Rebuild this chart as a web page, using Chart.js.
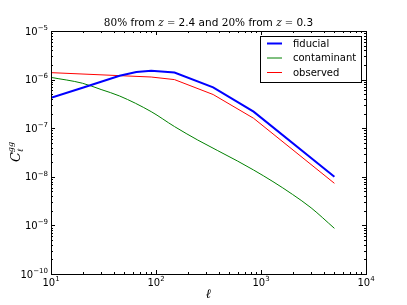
<!DOCTYPE html>
<html>
<head>
<meta charset="utf-8">
<script src="https://cdn.jsdelivr.net/npm/chart.js@4"></script>
<style>
  html, body { margin: 0; padding: 0; background: #fff; }
  #wrap { width: 407px; height: 305px; }
</style>
</head>
<body>
<div id="wrap"><canvas id="grafico"></canvas></div>
<script>
// multipoles and spectra
const ellFiducial = [10, 20, 30, 45, 65, 90, 150, 350, 850, 5000];
const fiducial = [4.2e-7, 6.8e-7, 9.0e-7, 1.2e-6, 1.43e-6, 1.52e-6, 1.40e-6, 6.95e-7, 2.19e-7, 1.0e-8];

const ellContaminant = [10, 20, 30, 45, 90, 150, 250, 600, 850, 1300, 2000, 3000, 5000];
const contaminant = [1.11e-6, 8.4e-7, 6.25e-7, 4.6e-7, 2.19e-7, 1.08e-7, 5.7e-8, 2.1e-8, 1.38e-8, 7.96e-9, 4.33e-9, 2.3e-9, 8.7e-10];

const ellObserved = [10, 90, 150, 350, 850, 5000];
const observed = [1.39e-6, 1.13e-6, 1.0e-6, 4.93e-7, 1.6e-7, 7.35e-9];

const xTickExps = [1, 2, 3, 4];
const yTickExps = [-10, -9, -8, -7, -6, -5];

function pts(xs, ys) {
    return xs.map((x, i) => ({ x: x, y: ys[i] }));
}

const data = {
    datasets: [{
        label: 'fiducial',
        borderColor: '#0000ff',
        backgroundColor: '#0000ff',
        borderWidth: 2,
        data: pts(ellFiducial, fiducial),
    },
    {
        label: 'contaminant',
        borderColor: '#008000',
        backgroundColor: '#008000',
        borderWidth: 1,
        cubicInterpolationMode: 'monotone',
        data: pts(ellContaminant, contaminant),
    },
    {
        label: 'observed',
        borderColor: '#ff0000',
        backgroundColor: '#ff0000',
        borderWidth: 1,
        data: pts(ellObserved, observed),
    }]
};

function drawPow(ctx, x, y, exp, align) {
    // "10" with a superscript exponent; y is the vertical middle of "10"
    ctx.font = '10px "DejaVu Sans"';
    const wb = ctx.measureText('10').width;
    ctx.font = '7px "DejaVu Sans"';
    const es = String(exp).replace('-', '\u2212');
    const we = ctx.measureText(es).width;
    const total = wb + we;
    let x0 = x;
    if (align === 'center') x0 = x - total / 2;
    if (align === 'right') x0 = x - total;
    ctx.textBaseline = 'middle';
    ctx.textAlign = 'left';
    ctx.font = '10px "DejaVu Sans"';
    ctx.fillText('10', x0, y);
    ctx.font = '7px "DejaVu Sans"';
    ctx.fillText(es, x0 + wb, y - 4);
}

const decor = {
    id: 'decor',
    afterDraw(chart) {
        const ctx = chart.ctx;
        const a = chart.chartArea;
        const xs = chart.scales.x, ys = chart.scales.y;
        ctx.save();
        ctx.fillStyle = '#000';
        ctx.strokeStyle = '#000';

        // frame
        ctx.lineWidth = 1;
        ctx.strokeRect(Math.round(a.left) + 0.5, Math.round(a.top) + 0.5,
            Math.round(a.right - a.left), Math.round(a.bottom - a.top));

        // ticks on all four sides, pointing in
        ctx.beginPath();
        for (let e = 1; e <= 4; e++) {
            for (let m = 1; m <= 9; m++) {
                if (e === 4 && m > 1) break;
                const v = m * Math.pow(10, e);
                const px = Math.round(xs.getPixelForValue(v)) + 0.5;
                const len = m === 1 ? 4 : 2;
                ctx.moveTo(px, a.bottom); ctx.lineTo(px, a.bottom - len);
                ctx.moveTo(px, a.top); ctx.lineTo(px, a.top + len);
            }
        }
        for (let e = -10; e <= -5; e++) {
            for (let m = 1; m <= 9; m++) {
                if (e === -5 && m > 1) break;
                const v = m * Math.pow(10, e);
                const py = Math.round(ys.getPixelForValue(v)) + 0.5;
                const len = m === 1 ? 4 : 2;
                ctx.moveTo(a.left, py); ctx.lineTo(a.left + len, py);
                ctx.moveTo(a.right, py); ctx.lineTo(a.right - len, py);
            }
        }
        ctx.stroke();

        // tick labels
        xTickExps.forEach(e => {
            drawPow(ctx, xs.getPixelForValue(Math.pow(10, e)), a.bottom + 9, e, 'center');
        });
        yTickExps.forEach(e => {
            drawPow(ctx, a.left - 3, ys.getPixelForValue(Math.pow(10, e)) + 1, e, 'right');
        });

        // title, mixed fonts like mathtext
        const seg = [
            ['80%', '10.5px "DejaVu Serif"'],
            [' from ', '10.5px "DejaVu Sans"'],
            ['z', 'italic 10.5px "DejaVu Serif"'],
            [' = ', '10px "DejaVu Serif"'],
            ['2.4 and ', '10.5px "DejaVu Sans"'],
            ['20%', '10.5px "DejaVu Serif"'],
            [' from ', '10.5px "DejaVu Sans"'],
            ['z', 'italic 10.5px "DejaVu Serif"'],
            [' = ', '10px "DejaVu Serif"'],
            ['0.3', '10.5px "DejaVu Sans"'],
        ];
        let tw = 0;
        seg.forEach(s => { ctx.font = s[1]; tw += ctx.measureText(s[0]).width; });
        let tx = (a.left + a.right) / 2 - tw / 2;
        ctx.textAlign = 'left';
        ctx.textBaseline = 'alphabetic';
        seg.forEach(s => {
            ctx.font = s[1];
            ctx.fillText(s[0], tx, 26);
            tx += ctx.measureText(s[0]).width;
        });

        // x label
        ctx.font = 'italic 13px "DejaVu Serif"';
        ctx.textAlign = 'center';
        ctx.fillText('\u2113', (a.left + a.right) / 2, 298);

        // y label, rotated
        ctx.save();
        ctx.translate(20, 152);
        ctx.rotate(-Math.PI / 2);
        ctx.textAlign = 'left';
        ctx.font = 'italic 13px "DejaVu Serif"';
        const wc = ctx.measureText('C').width;
        ctx.font = 'italic 8px "DejaVu Serif"';
        const wg = ctx.measureText('gg').width;
        const x0 = -(wc + wg) / 2;
        ctx.font = 'italic 13px "DejaVu Serif"';
        ctx.fillText('C', x0, 0);
        ctx.font = 'italic 8px "DejaVu Serif"';
        ctx.fillText('\u2113', x0 + wc, 3);
        ctx.fillText('gg', x0 + wc, -7);
        ctx.restore();

        // legend
        ctx.fillStyle = '#fff';
        ctx.fillRect(260, 36, 101, 46);
        ctx.lineWidth = 1;
        ctx.strokeStyle = '#000';
        ctx.strokeRect(260.5, 36.5, 101, 46);
        const rowY = [43.5, 58, 72.5];
        chart.data.datasets.forEach((ds, i) => {
            ctx.strokeStyle = ds.borderColor;
            ctx.lineWidth = ds.borderWidth;
            ctx.beginPath();
            ctx.moveTo(267, rowY[i]);
            ctx.lineTo(282, rowY[i]);
            ctx.stroke();
            ctx.fillStyle = '#000';
            ctx.font = '10px "DejaVu Sans"';
            ctx.textAlign = 'left';
            ctx.textBaseline = 'middle';
            ctx.fillText(ds.label, 293, rowY[i] + 0.5);
        });
        ctx.restore();
    }
};

const config = {
    type: 'scatter',
    data: data,
    options: {
        responsive: true,
        maintainAspectRatio: false,
        animation: false,
        layout: { padding: { left: 51, right: 41, top: 31, bottom: 31 } },
        elements: {
            point: { radius: 0, hoverRadius: 0 },
            line: { tension: 0 }
        },
        datasets: { scatter: { showLine: true } },
        plugins: {
            legend: { display: false },
            title: { display: false },
            tooltip: { enabled: false }
        },
        scales: {
            x: { type: 'logarithmic', min: 10, max: 10000, display: false },
            y: { type: 'logarithmic', min: 1e-10, max: 1e-5, display: false }
        }
    },
    plugins: [decor]
};

const grafico = new Chart(document.getElementById('grafico'), config);
</script>
</body>
</html>
